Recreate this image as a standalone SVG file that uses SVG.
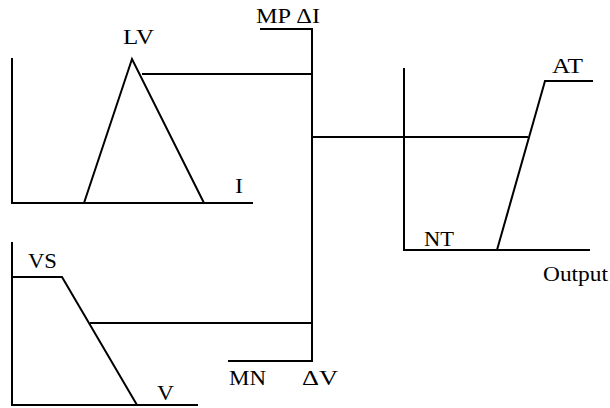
<svg xmlns="http://www.w3.org/2000/svg" width="610" height="408" viewBox="0 0 610 408">
<style>
line, polyline { stroke: #000; stroke-width: 2; fill: none; }
text { font-family: "Liberation Serif", "Times New Roman", serif; font-size: 21px; fill: #000; }
</style>
<rect width="610" height="408" fill="#fff"/>
<g id="current-plot">
  <polyline points="12,58 12,203 253,203"/>
  <polyline points="84,203 132,59 204,203"/>
  <text x="123" y="44" textLength="31" lengthAdjust="spacingAndGlyphs">LV</text>
  <text x="235" y="193" textLength="8" lengthAdjust="spacingAndGlyphs">I</text>
</g>
<g id="voltage-plot">
  <polyline points="12,242 12,405 198,405"/>
  <polyline points="12,277 62,277 137,405"/>
  <text x="28" y="268" textLength="29" lengthAdjust="spacingAndGlyphs">VS</text>
  <text x="157" y="400" textLength="17" lengthAdjust="spacingAndGlyphs">V</text>
</g>
<g id="rule-bar">
  <polyline points="260,29 312,29 312,361 228,361"/>
  <text x="256" y="23" textLength="64" lengthAdjust="spacingAndGlyphs">MP ΔI</text>
  <text x="229" y="385" textLength="37" lengthAdjust="spacingAndGlyphs">MN</text>
  <text x="302" y="385" textLength="36" lengthAdjust="spacingAndGlyphs">ΔV</text>
</g>
<g id="output-plot">
  <polyline points="404,68 404,250 590,250"/>
  <polyline points="497,250 545,81 593,81"/>
  <text x="552" y="73" textLength="31" lengthAdjust="spacingAndGlyphs">AT</text>
  <text x="424" y="246" textLength="30" lengthAdjust="spacingAndGlyphs">NT</text>
  <text x="543" y="281" textLength="65" lengthAdjust="spacingAndGlyphs">Output</text>
</g>
<g id="connectors">
  <line x1="142" y1="74" x2="312" y2="74"/>
  <line x1="90" y1="323" x2="312" y2="323"/>
  <line x1="312" y1="137" x2="528" y2="137"/>
</g>
</svg>
